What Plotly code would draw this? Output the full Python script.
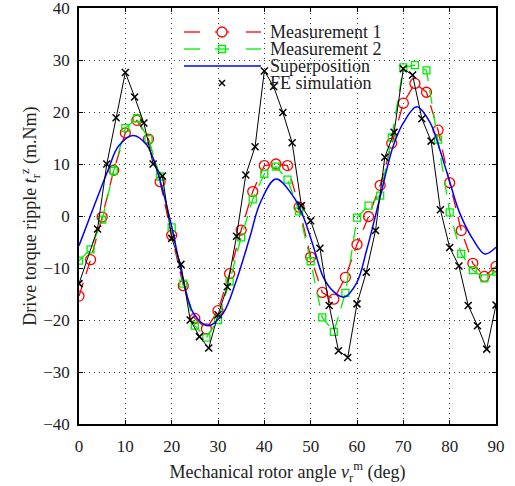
import plotly.graph_objects as go

# Measurement 1 and 2 (every 2.5 deg)
meas_x = [0, 2.5, 5, 7.5, 10, 12.5, 15, 17.5, 20, 22.5, 25, 27.5, 30, 32.5, 35, 37.5,
          40, 42.5, 45, 47.5, 50, 52.5, 55, 57.5, 60, 62.5, 65, 67.5, 70, 72.5, 75,
          77.5, 80, 82.5, 85, 87.5, 90]
meas1 = [-15.4, -8.4, -0.2, 8.8, 16.0, 18.4, 14.8, 6.6, -3.7, -13.4, -19.7, -21.7, -18.2,
         -11.1, -2.7, 4.7, 9.7, 10.0, 9.7, 1.7, -7.9, -14.7, -16.0, -11.8, -5.5, -0.1,
         5.9, 14.0, 21.7, 25.5, 23.8, 16.5, 6.4, -2.8, -9.1, -11.6, -9.7]
meas2 = [-8.6, -6.4, -0.7, 8.7, 16.9, 18.8, 14.8, 7.6, -2.2, -13.0, -21.1, -23.4, -20.0,
         -12.6, -4.1, 3.2, 8.1, 9.5, 7.0, 0.9, -8.7, -19.5, -22.3, -14.8, -0.3, 2.0,
         3.9, 15.1, 28.6, 29.0, 28.0, 14.7, 0.7, -7.3, -10.4, -12.0, -10.7]

# Superposition
sup_x = [0, 3.5, 6.3, 8.5, 11.6, 14.6, 16.8, 18.6, 20, 22.5, 24.7, 27.9, 31.1, 34, 36.9,
         39.1, 42.5, 46.3, 48.4, 50.6, 52.7, 54.9, 57.2, 59.9, 62.1, 65, 67.8, 70, 72.9,
         75.8, 77.9, 80.1, 82.2, 85.1, 87.6, 90]
sup_y = [-5.7, 2.5, 8.9, 13.4, 15.5, 13.7, 8.9, 3.1, -2.0, -12.3, -18.7, -21.1, -18.7,
         -12.3, -4.0, 2.5, 7.1, 3.7, -0.1, -5.9, -11.7, -14.5, -15.6, -12.9, -6.5, 3.7,
         13.4, 17.9, 21.0, 17.9, 12.7, 6.3, 0.5, -4.6, -7.3, -6.0]

# FE simulation
fe_x = [0, 4, 6, 8, 10, 12, 14, 16, 18, 20, 22, 24, 26, 28, 30, 32, 34, 36, 38, 40, 42,
        44, 46, 48, 50, 52, 54, 56, 58, 60, 62, 64, 66, 68, 70, 72, 74, 76, 78, 80, 82,
        84, 86, 88, 90]
fe_y = [-13.0, -2.5, 10.0, 18.9, 27.6, 22.9, 17.9, 10.0, 7.7, -4.3, -9.3, -20.0, -23.2,
        -25.4, -19.0, -13.6, -3.9, 7.9, 13.3, 27.9, 24.9, 19.9, 14.1, 2.0, -0.9, -6.2,
        -17.2, -25.9, -27.2, -16.9, -10.8, -2.8, 11.3, 16.1, 28.3, 27.1, 18.7, 14.4, 1.2,
        -6.05, -9.6, -17.2, -21.1, -25.6, -17.1]

x_ticks = [0, 10, 20, 30, 40, 50, 60, 70, 80, 90]
y_ticks = [-40, -30, -20, -10, 0, 10, 20, 30, 40]

series_names = ["Measurement 1", "Measurement 2", "Superposition", "FE simulation"]

FONT = "Liberation Serif"
RED, GREEN, BLUE, BLACK = "#ff0000", "#00ee00", "#0000ff", "#000000"

W, H = 515, 486
ML, MR, MT, MB = 79, 19, 8, 62
PW, PH = W - ML - MR, H - MT - MB


def px_x(p):
    return (p - ML) / PW


def px_y(p):
    return 1 - (p - MT) / PH


fig = go.Figure()
fig.add_trace(go.Scatter(
    x=meas_x, y=meas1, mode="lines+markers", name=series_names[0], showlegend=False,
    line=dict(color=RED, width=1.3, dash="14px,9px"),
    marker=dict(symbol="circle-open", size=10, color=RED, line=dict(width=1.3))))
fig.add_trace(go.Scatter(
    x=meas_x, y=meas2, mode="lines+markers", name=series_names[1], showlegend=False,
    line=dict(color=GREEN, width=1.3, dash="14px,9px"),
    marker=dict(symbol="square-open", size=7, color=GREEN, line=dict(width=1.3))))
fig.add_trace(go.Scatter(
    x=sup_x, y=sup_y, mode="lines", name=series_names[2], showlegend=False,
    line=dict(color=BLUE, width=1.5, shape="spline", smoothing=1.0)))
fig.add_trace(go.Scatter(
    x=fe_x, y=fe_y, mode="lines+markers", name=series_names[3], showlegend=False,
    line=dict(color=BLACK, width=1),
    marker=dict(symbol="x-thin-open", size=7, color=BLACK,
                line=dict(width=1.5, color=BLACK))))

# ---- hand-built legend (tight line spacing as in the reference) ----
row_y = [32, 49, 66, 83]
lx0, lx1, lmid, ltext = 184, 261, 222, 268
shapes = []
annotations = []
for i, name in enumerate(series_names):
    yy = px_y(row_y[i])
    annotations.append(dict(
        text=name, x=px_x(ltext), y=yy, xref="paper", yref="paper",
        xanchor="left", yanchor="middle", showarrow=False,
        font=dict(family=FONT, size=18, color="#222")))
# dashed samples with marker in the middle
for i, col in enumerate([RED, GREEN]):
    yy = px_y(row_y[i])
    for a, b in [(lx0, lx0 + 16), (lmid - 7, lmid + 7), (lx1 - 15, lx1)]:
        shapes.append(dict(type="line", xref="paper", yref="paper",
                           x0=px_x(a), x1=px_x(b), y0=yy, y1=yy,
                           line=dict(color=col, width=1.3)))
r = 5
shapes.append(dict(type="circle", xref="paper", yref="paper",
                   x0=px_x(lmid - r), x1=px_x(lmid + r),
                   y0=px_y(row_y[0] + r), y1=px_y(row_y[0] - r),
                   line=dict(color=RED, width=1.3), fillcolor="white"))
s = 3.5
shapes.append(dict(type="rect", xref="paper", yref="paper",
                   x0=px_x(lmid - s), x1=px_x(lmid + s),
                   y0=px_y(row_y[1] + s), y1=px_y(row_y[1] - s),
                   line=dict(color=GREEN, width=1.3), fillcolor="rgba(0,0,0,0)"))
shapes.append(dict(type="line", xref="paper", yref="paper",
                   x0=px_x(lx0), x1=px_x(lx1), y0=px_y(row_y[2]), y1=px_y(row_y[2]),
                   line=dict(color=BLUE, width=1.5)))
c = 3
for d in (1, -1):
    shapes.append(dict(type="line", xref="paper", yref="paper",
                       x0=px_x(lmid - c), x1=px_x(lmid + c),
                       y0=px_y(row_y[3] - d * c), y1=px_y(row_y[3] + d * c),
                       line=dict(color=BLACK, width=1.5)))

axis_common = dict(
    showline=True, linecolor="black", linewidth=1.5, mirror="ticks",
    ticks="inside", ticklen=4, tickcolor="black", tickwidth=1,
    showgrid=True, gridcolor="rgba(0,0,0,0.8)", gridwidth=1, griddash="1px,4px",
    zeroline=False, automargin=False, ticklabeloverflow="allow",
    tickfont=dict(family=FONT, size=17, color="#222"),
)

fig.update_xaxes(range=[0, 90], tickvals=x_ticks, ticklabelstandoff=6,
                 title=dict(text="Mechanical rotor angle <i>ν</i><sub>r</sub><sup>m</sup> (deg)",
                            font=dict(family=FONT, size=18, color="#222"), standoff=10),
                 **axis_common)
fig.update_yaxes(range=[-40, 40], tickvals=y_ticks, ticklabelstandoff=4,
                 title=dict(text="Drive torque ripple <i>t</i><sub>r</sub><sup>z</sup> (m.Nm)",
                            font=dict(family=FONT, size=18, color="#222"), standoff=0),
                 **axis_common)

fig.update_layout(
    width=W, height=H,
    margin=dict(l=ML, r=MR, t=MT, b=MB),
    paper_bgcolor="white", plot_bgcolor="white",
    font=dict(family=FONT, color="#222"),
    showlegend=False,
    shapes=shapes, annotations=annotations,
)

fig.write_html("out.html", config={"displayModeBar": False},
               post_script="document.body.style.margin='0';")
